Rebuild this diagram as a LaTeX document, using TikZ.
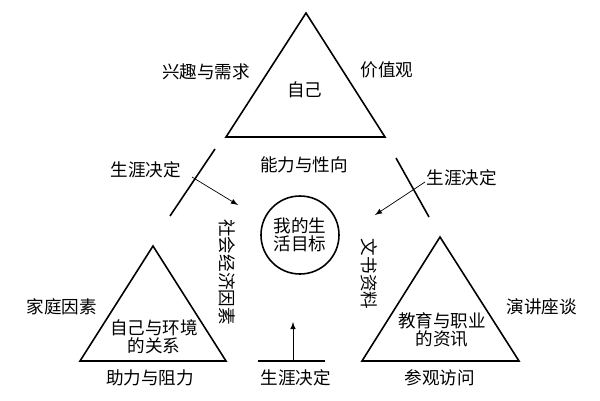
\documentclass[tikz,border=0pt]{standalone}
\usepackage{fontspec}
\setmainfont{Noto Sans CJK SC}
\tikzstyle{arrow} = [-latex, thin]
\tikzstyle{tri} = [line width=0.9pt, line join=miter]
\tikzstyle{bar} = [line width=0.9pt]
\begin{document}
\begin{tikzpicture}[x=0.02cm, y=-0.02cm, every node/.style={font=\fontsize{10}{12}\selectfont, align=center}]
		\useasboundingbox (0,0) rectangle (600,400);
		% triangles
		\draw [tri] (306,13) -- (385,137) -- (226,137) -- cycle;
		\draw [tri] (153,246) -- (226,361) -- (80,361) -- cycle;
		\draw [tri] (440,237) -- (519,361) -- (362,361) -- cycle;
		\node (self) at (305,90) {自己};
		\node (env) at (154,337) {自己与环境\\[-2pt]的关系};
		\node (info) at (442,330) {教育与职业\\[-2pt]的资讯};
		\node (goal) [circle, draw, line width=0.9pt, minimum size=78*0.02cm, inner sep=0pt] at (300,235) {我的生\\[-2pt]活目标};
		
		\node (interest) at (206,72) {兴趣与需求};
		\node (value) at (387,70) {价值观};
		\node (ability) at (304,165) {能力与性向};
		\node (family) at (62,307) {家庭因素};
		\node (help) at (150,378) {助力与阻力};
		\node (talk) at (542,307) {演讲座谈};
		\node (visit) at (440,378) {参观访问};
		\node (social) [rotate=-90] at (227,272) {社会经济因素};
		\node (docs) [rotate=-90] at (369,274) {文书资料};
		\node (dec1) at (146,170) {生涯决定};
		\node (dec2) at (462,178) {生涯决定};
		\node (dec3) at (296,378) {生涯决定};
		
		% barriers
		\coordinate (b1a) at (215,149); \coordinate (b1b) at (170,216);
		\coordinate (b2a) at (396,158); \coordinate (b2b) at (429,217);
		\coordinate (b3a) at (258,361); \coordinate (b3b) at (325,361);
		\draw [bar] (b1a) -- (b1b);
		\draw [bar] (b2a) -- (b2b);
		\draw [bar] (b3a) -- (b3b);
		
		\coordinate (a1) at (192,177); \coordinate (t1) at (238,205);
		\coordinate (a2) at (425,182); \coordinate (t2) at (375,215);
		\coordinate (a3) at (293,361); \coordinate (t3) at (293,322);
		\draw [arrow] (a1) -- (t1);
		\draw [arrow] (a2) -- (t2);
		\draw [arrow] (a3) -- (t3);
	\end{tikzpicture}
\end{document}
